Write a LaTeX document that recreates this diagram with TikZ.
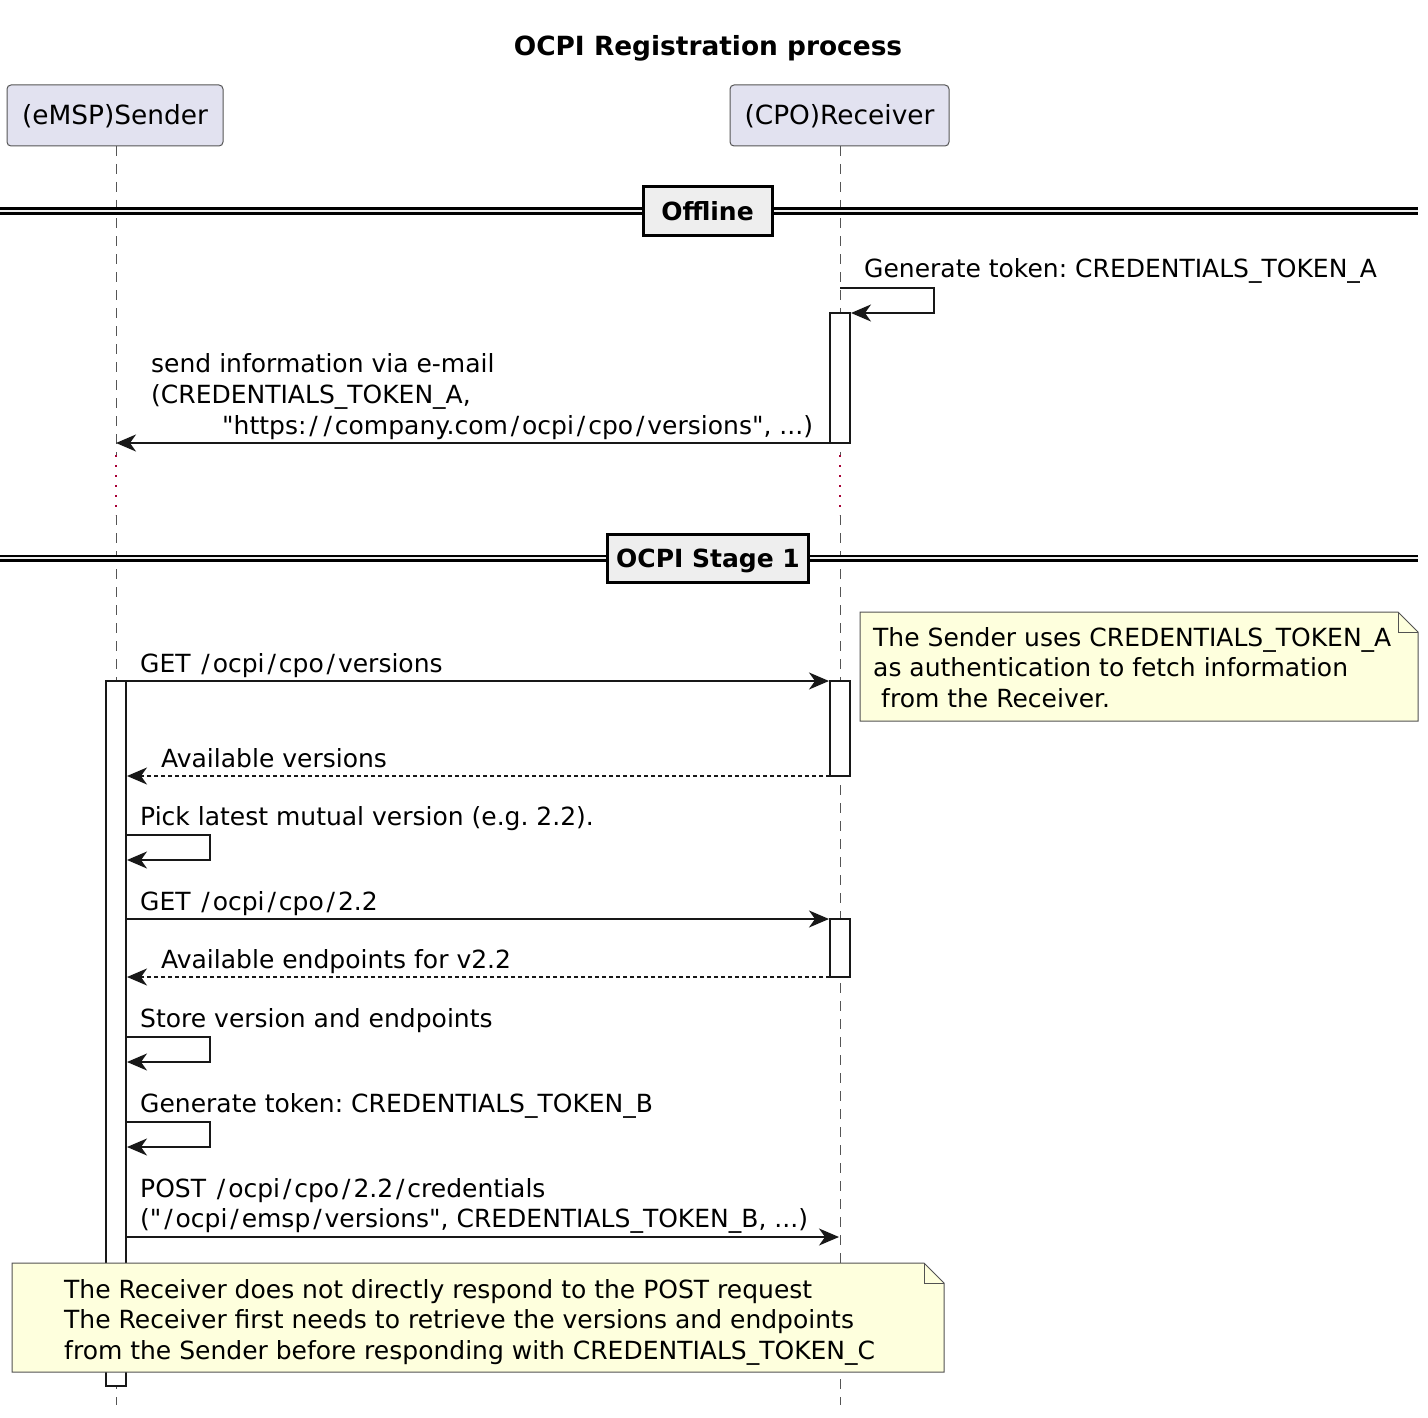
\documentclass[tikz,border=0pt]{standalone}
\usepackage{fontspec}
\setmainfont{DejaVu Sans}[Ligatures=TeXOff]
\usetikzlibrary{arrows.meta}
\definecolor{partfill}{HTML}{E2E2F0}
\definecolor{notefill}{HTML}{FEFFDD}
\definecolor{divfill}{HTML}{EEEEEE}
\definecolor{linegray}{HTML}{555555}
\definecolor{delayred}{HTML}{A80036}
\definecolor{ink}{HTML}{181818}
\frenchspacing
\newcommand{\Sl}{\kern2.9pt/\kern2.9pt}
\begin{document}
\begin{tikzpicture}[x=1pt,y=-1pt,
 lbl/.style={font=\fontsize{25}{30.5}\selectfont, anchor=base west, inner sep=0pt},
 part/.style={draw=linegray, line width=1pt, fill=partfill, rounded corners=4pt, minimum height=61pt, inner sep=0pt, text height=19pt, text depth=0pt, font=\fontsize{26.4}{30}\selectfont},
 lifeline/.style={draw=linegray, line width=1pt, dash pattern=on 10pt off 8pt},
 delayline/.style={draw=delayred, line width=1.2pt, dash pattern=on 2pt off 8pt},
 msg/.style={draw=ink, line width=1.5pt, -{Stealth[length=20pt,width=17pt,inset=6pt]}},
 ret/.style={msg, dash pattern=on 4pt off 3pt},
 act/.style={draw=ink, line width=1.5pt, fill=white, inner sep=0pt, outer sep=0pt, minimum width=20pt, anchor=north},
 divbox/.style={draw=black, line width=3pt, fill=divfill, font=\bfseries\fontsize{25}{30}\selectfont, inner sep=0pt, minimum height=48pt, text height=18pt, text depth=0pt},
 divouter/.style={draw=black, line width=7pt},
 divinner/.style={draw=divfill, line width=2.5pt},
 notebox/.style={draw=ink!75, line width=1pt, fill=notefill},
]
\useasboundingbox (0,0) rectangle (1428,1418);

% title
\node[font=\bfseries\fontsize{26.4}{30}\selectfont, anchor=base, inner sep=0pt] (title) at (708,56) {OCPI Registration process};

% participants
\node[part, minimum width=216pt] (snd) at (115,115.5) {(eMSP)Sender};
\node[part, minimum width=219pt] (rcv) at (839.5,115.5) {(CPO)Receiver};

% lifelines
\coordinate (sTop) at (116,146); \coordinate (sD1) at (116,455); \coordinate (sD2) at (116,515); \coordinate (sBot) at (116,1405);
\coordinate (rTop) at (840,146); \coordinate (rD1) at (840,455); \coordinate (rD2) at (840,515); \coordinate (rBot) at (840,1405);
\draw[lifeline] (sTop) -- (sD1);
\draw[delayline] (sD1) -- (sD2);
\draw[lifeline] (sD2) -- (sBot);
\draw[lifeline] (rTop) -- (rD1);
\draw[delayline] (rD1) -- (rD2);
\draw[lifeline] (rD2) -- (rBot);

% dividers
\coordinate (d1L) at (0,211); \coordinate (d1R) at (1418,211);
\draw[divouter] (d1L) -- (d1R);
\draw[divinner] (d1L) -- (d1R);
\node[divbox, minimum width=129pt] (off) at (707.5,211) {Offline};
\coordinate (d2L) at (0,558); \coordinate (d2R) at (1418,558);
\draw[divouter] (d2L) -- (d2R);
\draw[divinner] (d2L) -- (d2R);
\node[divbox, minimum width=201pt] (st1) at (708,558) {OCPI Stage 1};

% activations
\node[act, minimum height=130pt] (ra1) at (840,313) {};
\node[act, minimum height=705pt] (sa) at (116,681) {};
\node[act, minimum height=95pt] (ra2) at (840,681) {};
\node[act, minimum height=58pt] (ra3) at (840,919) {};

% self message on receiver
\node[lbl] (m1) at (864,277) {Generate token: CREDENTIALS\_TOKEN\_A};
\coordinate (r1a) at (840,288); \coordinate (r1b) at (934,288); \coordinate (r1c) at (934,313); \coordinate (r1d) at (851,313);
\draw[msg] (r1a) -- (r1b) -- (r1c) -- (r1d);

% e-mail message
\node[lbl] (m2a) at (151,372) {send information via e-mail};
\node[lbl] (m2b) at (151,403) {(CREDENTIALS\_TOKEN\_A,};
\node[lbl] (m2c) at (222,434) {"https:\Sl\Sl company.com\Sl ocpi\Sl cpo\Sl versions", ...)};
\coordinate (s443) at (116,443);
\draw[msg] (ra1.south west) -- (s443);

% note 1
\coordinate (n1a) at (860,612); \coordinate (n1b) at (1398,612); \coordinate (n1c) at (1418,632);
\coordinate (n1d) at (1418,721); \coordinate (n1e) at (860,721); \coordinate (n1f) at (1398,632);
\draw[notebox] (n1a) -- (n1b) -- (n1c) -- (n1d) -- (n1e) -- cycle;
\draw[notebox, fill=none] (n1b) -- (n1f) -- (n1c);
\node[lbl] (n1t1) at (873,646) {The Sender uses CREDENTIALS\_TOKEN\_A};
\node[lbl] (n1t2) at (873,676) {as authentication to fetch information};
\node[lbl] (n1t3) at (881,707) {from the Receiver.};

% GET versions
\node[lbl] (m3) at (140,672) {GET \Sl ocpi\Sl cpo\Sl versions};
\coordinate (ra2in) at (829,681);
\draw[msg] (sa.north east) -- (ra2in);

% Available versions
\node[lbl] (m4) at (161,767) {Available versions};
\coordinate (s776) at (127,776);
\draw[ret] (ra2.south west) -- (s776);

% Pick latest
\node[lbl] (m5) at (140,825) {Pick latest mutual version (e.g. 2.2).};
\coordinate (p1) at (126,835); \coordinate (p2) at (210,835); \coordinate (p3) at (210,860); \coordinate (p4) at (127,860);
\draw[msg] (p1) -- (p2) -- (p3) -- (p4);

% GET 2.2
\node[lbl] (m6) at (140,910) {GET \Sl ocpi\Sl cpo\Sl 2.2};
\coordinate (g1) at (126,919); \coordinate (ra3in) at (829,919);
\draw[msg] (g1) -- (ra3in);

% Available endpoints
\node[lbl] (m7) at (161,968) {Available endpoints for v2.2};
\coordinate (s977) at (127,977);
\draw[ret] (ra3.south west) -- (s977);

% Store
\node[lbl] (m8) at (140,1027) {Store version and endpoints};
\coordinate (q1) at (126,1037); \coordinate (q2) at (210,1037); \coordinate (q3) at (210,1062); \coordinate (q4) at (127,1062);
\draw[msg] (q1) -- (q2) -- (q3) -- (q4);

% Generate token B
\node[lbl] (m9) at (140,1112) {Generate token: CREDENTIALS\_TOKEN\_B};
\coordinate (t1) at (126,1122); \coordinate (t2) at (210,1122); \coordinate (t3) at (210,1147); \coordinate (t4) at (127,1147);
\draw[msg] (t1) -- (t2) -- (t3) -- (t4);

% POST
\node[lbl] (m10a) at (140,1197) {POST \Sl ocpi\Sl cpo\Sl 2.2\Sl credentials};
\node[lbl] (m10b) at (140,1227) {("\Sl ocpi\Sl emsp\Sl versions", CREDENTIALS\_TOKEN\_B, ...)};
\coordinate (po1) at (126,1237); \coordinate (po2) at (839,1237);
\draw[msg] (po1) -- (po2);

% note 2
\coordinate (n2a) at (12,1263); \coordinate (n2b) at (924,1263); \coordinate (n2c) at (944,1283);
\coordinate (n2d) at (944,1372); \coordinate (n2e) at (12,1372); \coordinate (n2f) at (924,1283);
\draw[notebox] (n2a) -- (n2b) -- (n2c) -- (n2d) -- (n2e) -- cycle;
\draw[notebox, fill=none] (n2b) -- (n2f) -- (n2c);
\node[lbl] (n2t1) at (64,1298) {The Receiver does not directly respond to the POST request};
\node[lbl] (n2t2) at (64,1328) {The Receiver first needs to retrieve the versions and endpoints};
\node[lbl] (n2t3) at (64,1359) {from the Sender before responding with CREDENTIALS\_TOKEN\_C};
\end{tikzpicture}
\end{document}
